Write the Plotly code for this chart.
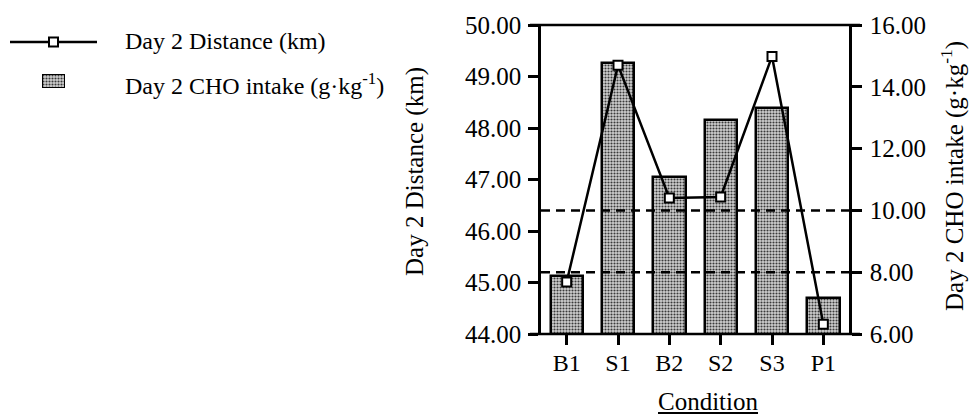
import plotly.graph_objects as go

# ---- data ----
conditions = ["B1", "S1", "B2", "S2", "S3", "P1"]
cho_intake = [7.88, 14.78, 11.08, 12.94, 13.32, 7.15]      # g·kg-1 (right axis, bars)
distance_km = [45.01, 49.22, 46.64, 46.66, 49.39, 44.19]    # km (left axis, line)
ref_lines_cho = [8.0, 10.0]
left_ticks = [44, 45, 46, 47, 48, 49, 50]
right_ticks = [6, 8, 10, 12, 14, 16]

W, H = 975, 414
FONT = "Liberation Serif"
FS = 24
FS_TICK = 25

def px(x):
    return x / W

def py(y):
    return (H - y) / H

# plot area in pixels
L, R, T, B = 541, 849, 25, 334

pattern = dict(shape=".", size=3, solidity=0.4, fgcolor="#3a3a3a", bgcolor="#d0d0d0", fillmode="replace")

fig = go.Figure()

fig.add_trace(go.Bar(
    x=conditions, y=cho_intake, width=0.63,
    marker=dict(color="white", line=dict(color="black", width=2.5), pattern=pattern),
    xaxis="x", yaxis="y", showlegend=False,
))

fig.add_trace(go.Scatter(
    x=conditions, y=distance_km, mode="lines+markers",
    line=dict(color="black", width=2.5),
    marker=dict(symbol="square", size=9, color="white", line=dict(color="black", width=2)),
    xaxis="x", yaxis="y2", showlegend=False,
))

# legend swatch (bar with the same pattern) on a tiny auxiliary axis
fig.add_trace(go.Bar(
    x=[0], y=[1], width=1,
    marker=dict(color="white", line=dict(color="black", width=2), pattern=pattern),
    xaxis="x3", yaxis="y3", showlegend=False, hoverinfo="skip",
))

fig.update_layout(
    width=W, height=H,
    margin=dict(l=0, r=0, t=0, b=0, autoexpand=False),
    paper_bgcolor="white", plot_bgcolor="white",
    font=dict(family=FONT, size=FS, color="black"),
    showlegend=False,
    bargap=0,
    xaxis=dict(
        domain=[px(L), px(R)], type="category", range=[-0.5, 5.5], automargin=False,
        ticks="outside", ticklen=10, tickwidth=2.5, tickcolor="black",
        showline=False, showgrid=False, zeroline=False, ticklabelstandoff=-3,
        tickfont=dict(family=FONT, size=FS), anchor="y",
    ),
    yaxis=dict(
        domain=[py(B), py(T)], range=[6, 16], tickvals=right_ticks, tickformat=".2f",
        side="right", ticks="outside", ticklen=10, tickwidth=2.5, tickcolor="black",
        showline=True, linewidth=2.5, linecolor="black", automargin=False,
        showgrid=False, zeroline=False, anchor="x", ticklabelstandoff=3,
        tickfont=dict(family=FONT, size=FS_TICK),
    ),
    yaxis2=dict(
        range=[44, 50], tickvals=left_ticks, tickformat=".2f",
        side="left", overlaying="y", ticks="outside", ticklen=10, tickwidth=2.5, tickcolor="black",
        showline=True, linewidth=2.5, linecolor="black", automargin=False,
        showgrid=False, zeroline=False, anchor="x", ticklabelstandoff=2,
        tickfont=dict(family=FONT, size=FS_TICK),
    ),
    xaxis3=dict(domain=[px(42), px(65)], range=[-0.5, 0.5], visible=False, fixedrange=True,
                anchor="y3", automargin=False),
    yaxis3=dict(domain=[py(88), py(74)], range=[0, 1], visible=False, fixedrange=True,
                anchor="x3", automargin=False),
)

shapes = []
for v in ref_lines_cho:
    shapes.append(dict(type="line", xref="x domain", yref="y", x0=0, x1=1, y0=v, y1=v,
                       line=dict(color="black", width=2.5, dash="9px,6px"), layer="above"))
# top and bottom frame lines extending past the vertical axes
for yy in (T, B):
    shapes.append(dict(type="line", xref="paper", yref="paper", x0=px(530), x1=px(860),
                       y0=py(yy), y1=py(yy), line=dict(color="black", width=2.5)))
# legend: line sample with marker
shapes.append(dict(type="line", xref="paper", yref="paper", x0=px(10), x1=px(97),
                   y0=py(42), y1=py(42), line=dict(color="black", width=2.5)))
shapes.append(dict(type="rect", xref="paper", yref="paper", x0=px(49), x1=px(58),
                   y0=py(46.5), y1=py(37.5), fillcolor="white", line=dict(color="black", width=2)))
fig.update_layout(shapes=shapes)

annotations = [
    dict(text="Day 2 Distance (km)", x=px(123), y=py(41), xref="paper", yref="paper",
         xanchor="left", yanchor="middle", showarrow=False, font=dict(family=FONT, size=FS)),
    dict(text="Day 2 CHO intake (g·kg<sup>-1</sup>)", x=px(123), y=py(84), xref="paper", yref="paper",
         xanchor="left", yanchor="middle", showarrow=False, font=dict(family=FONT, size=FS)),
    dict(text="Day 2 Distance (km)", x=px(415), y=py(172), xref="paper", yref="paper",
         xanchor="center", yanchor="middle", textangle=-90, showarrow=False, font=dict(family=FONT, size=25)),
    dict(text="Day 2 CHO intake (g·kg<sup>-1</sup>)", x=px(952), y=py(176), xref="paper", yref="paper",
         xanchor="center", yanchor="middle", textangle=-90, showarrow=False, font=dict(family=FONT, size=25)),
    dict(text="<u>Condition</u>", x=px(708), y=py(401), xref="paper", yref="paper",
         xanchor="center", yanchor="middle", showarrow=False, font=dict(family=FONT, size=25)),
]
fig.update_layout(annotations=annotations)

fig.write_html("out.html")
